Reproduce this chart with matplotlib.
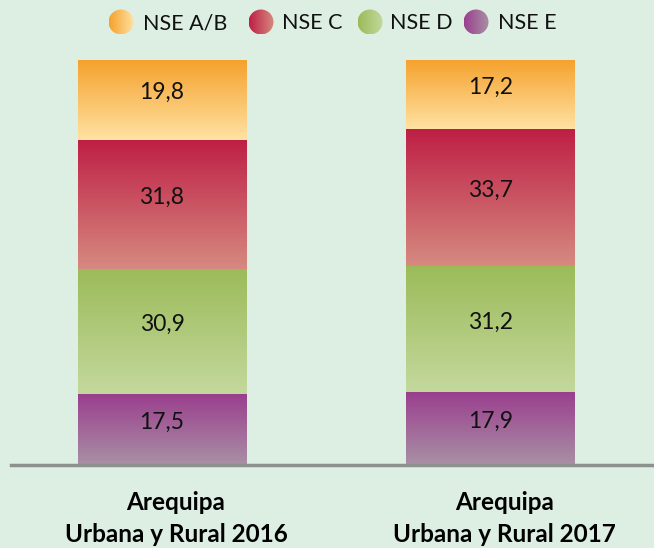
import numpy as np
import matplotlib
matplotlib.use("Agg")
import matplotlib.pyplot as plt
import matplotlib.transforms as mtransforms
from matplotlib.colors import LinearSegmentedColormap
from matplotlib.patches import Circle

plt.rcParams['font.family'] = ['Lato', 'DejaVu Sans']

# Data
categories = ["Arequipa\nUrbana y Rural 2016", "Arequipa\nUrbana y Rural 2017"]
series = ["NSE A/B", "NSE C", "NSE D", "NSE E"]
nse_e = [17.5, 17.9]
nse_d = [30.9, 31.2]
nse_c = [31.8, 33.7]
nse_ab = [19.8, 17.2]

# top colour / bottom colour of each gradient
grad_colors = {
    "NSE A/B": ("#f5a12c", "#ffe2a3"),
    "NSE C": ("#be1f45", "#d68a80"),
    "NSE D": ("#9bbb59", "#c4d89d"),
    "NSE E": ("#9a3f8e", "#a990a5"),
}
bg = "#ddeee2"

W, H = 654, 548
fig = plt.figure(figsize=(W / 100, H / 100), dpi=100, facecolor=bg)
ax = fig.add_axes([11 / W, 1 - 465 / H, (W - 11) / W, (465 - 59.5) / H])
ax.set_facecolor(bg)

x = np.arange(len(categories))
width = 0.512
stack = [("NSE E", nse_e), ("NSE D", nse_d), ("NSE C", nse_c), ("NSE A/B", nse_ab)]

grad = np.linspace(0, 1, 256).reshape(-1, 1)
bottom = np.zeros(len(categories))
for name, vals in stack:
    top_c, bot_c = grad_colors[name]
    cmap = LinearSegmentedColormap.from_list(name, [top_c, bot_c])
    for i, v in enumerate(vals):
        y0 = bottom[i]
        ax.imshow(grad, cmap=cmap, aspect='auto', interpolation='bicubic',
                  origin='upper',
                  extent=[x[i] - width / 2, x[i] + width / 2, y0, y0 + v],
                  zorder=2)
        ax.annotate(f"{v:.1f}".replace(".", ","), (x[i], y0 + v / 2),
                    xytext=(0, 5), textcoords='offset points',
                    ha='center', va='center', fontsize=16.5, color='#111111',
                    zorder=3)
    bottom += np.array(vals)

ax.set_xlim(-0.4597, 1.4977)
ax.set_ylim(0, 100)
ax.set_yticks([])
ax.set_xticks(x)
ax.set_xticklabels(categories, fontsize=17.5, fontweight='bold', linespacing=1.45)
ax.tick_params(axis='x', length=0, pad=19)
# category labels sit a bit right of the bar centres
shift = mtransforms.ScaledTranslation(14 / 100, 0, fig.dpi_scale_trans)
for lbl in ax.get_xticklabels():
    lbl.set_transform(lbl.get_transform() + shift)
for s in ['top', 'right', 'left']:
    ax.spines[s].set_visible(False)
ax.spines['bottom'].set_color('#8c918d')
ax.spines['bottom'].set_linewidth(2.5)

# Legend with gradient circles
lax = fig.add_axes([0, 0, 1, 1])
lax.set_xlim(0, W)
lax.set_ylim(H, 0)
lax.axis('off')
hgrad = np.linspace(0, 1, 256).reshape(1, -1)
circle_x = [121, 261, 370, 476]
text_x = [143, 282, 390, 498]
cy, r = 22, 12.5
for name, cx, tx in zip(series, circle_x, text_x):
    dark, light = grad_colors[name]
    cmap = LinearSegmentedColormap.from_list(name + "_l", [dark, light])
    im = lax.imshow(hgrad, cmap=cmap, aspect='auto',
                    extent=[cx - r, cx + r, cy + r, cy - r])
    circ = Circle((cx, cy), r, transform=lax.transData, facecolor='none',
                  edgecolor='none')
    lax.add_patch(circ)
    im.set_clip_path(circ)
    lax.text(tx, cy + 1, name, fontsize=15.5, va='center', ha='left',
             color='#111111')

fig.savefig("out.png", dpi=100, facecolor=bg)
